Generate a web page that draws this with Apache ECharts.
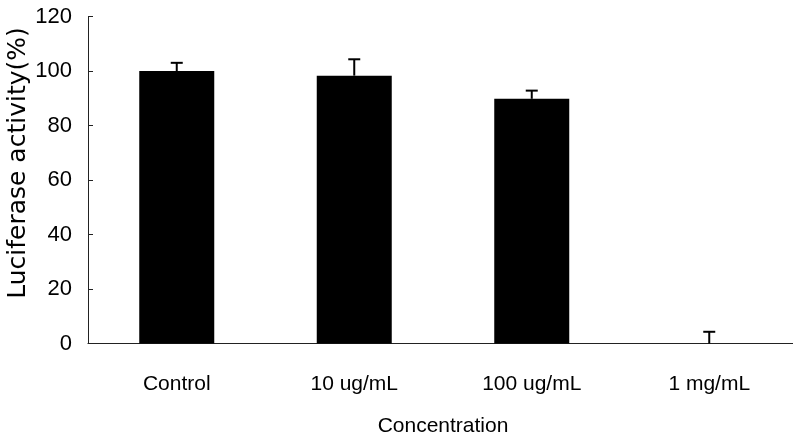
<!DOCTYPE html>
<html>
<head>
<meta charset="utf-8">
<script src="https://cdn.jsdelivr.net/npm/echarts@6/dist/echarts.min.js"></script>
<style>html,body{margin:0;padding:0;background:#fff;}#c{width:793px;height:438px;}</style>
</head>
<body>
<div id="c"></div>
<script>
var categories = ['Control', '10 ug/mL', '100 ug/mL', '1 mg/mL'];
var values = [100, 98.3, 89.8, 0];
var errors = [3, 6, 3, 4.3];
var yTicks = [0, 20, 40, 60, 80, 100, 120];

var chart = echarts.init(document.getElementById('c'), null, {renderer: 'canvas'});
var errData = categories.map(function (c, i) { return [i, values[i], errors[i]]; });

chart.setOption({
  animation: false,
  backgroundColor: '#fff',
  grid: {left: 88, top: 16.5, right: -5, bottom: 94.5, containLabel: false, outerBoundsMode: 'none'},
  xAxis: {
    type: 'category',
    data: categories,
    name: 'Concentration',
    nameLocation: 'middle',
    nameGap: 72,
    nameMoveOverlap: false,
    nameTextStyle: {fontFamily: 'Liberation Sans, Arial, sans-serif', fontSize: 21, color: '#000'},
    axisLine: {lineStyle: {color: '#222', width: 1.2}},
    axisTick: {inside: true, length: 4, lineStyle: {color: '#222'}},
    axisLabel: {fontFamily: 'Liberation Sans, Arial, sans-serif', fontSize: 21, color: '#000', margin: 30}
  },
  yAxis: {
    type: 'value',
    min: yTicks[0],
    max: yTicks[yTicks.length - 1],
    interval: 20,
    name: 'Luciferase activity(%)',
    nameLocation: 'middle',
    nameGap: 57,
    nameMoveOverlap: false,
    nameTextStyle: {fontFamily: 'DejaVu Sans, sans-serif', fontSize: 25, color: '#000', padding: [0, 0, 0, 34]},
    axisLine: {show: true, lineStyle: {color: '#222', width: 1}},
    axisTick: {show: true, inside: true, length: 5, lineStyle: {color: '#222'}},
    splitLine: {show: false},
    axisLabel: {fontFamily: '"Liberation Sans Narrow", "Arial Narrow", "Liberation Sans", sans-serif', fontSize: 22, color: '#000', margin: 16}
  },
  series: [
    {
      type: 'bar',
      data: values,
      barWidth: 75,
      itemStyle: {color: '#000'},
      z: 2
    },
    {
      type: 'custom',
      data: errData,
      z: 3,
      renderItem: function (params, api) {
        var i = api.value(0), v = api.value(1), e = api.value(2);
        var p0 = api.coord([i, v]);
        var p1 = api.coord([i, v + e]);
        var hw = 6;
        var st = {stroke: '#000', lineWidth: 2};
        return {
          type: 'group',
          children: [
            {type: 'line', shape: {x1: p0[0], y1: p0[1], x2: p1[0], y2: p1[1]}, style: st},
            {type: 'line', shape: {x1: p1[0] - hw, y1: p1[1], x2: p1[0] + hw, y2: p1[1]}, style: st}
          ]
        };
      }
    }
  ]
});
</script>
</body>
</html>
